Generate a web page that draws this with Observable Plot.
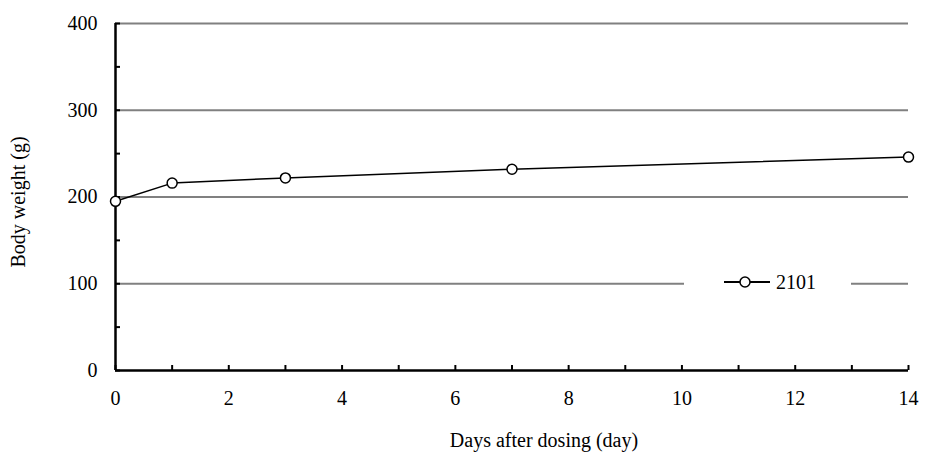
<!DOCTYPE html>
<html><head><meta charset="utf-8">
<script src="https://cdn.jsdelivr.net/npm/d3@7"></script>
<script src="https://cdn.jsdelivr.net/npm/@observablehq/plot@0.6"></script>
<style>
body{margin:0;background:#fff;}
#wrap{position:relative;width:935px;height:464px;font-family:"Liberation Serif","Times New Roman",serif;}
#wrap svg text{font-family:"Liberation Serif","Times New Roman",serif !important;font-size:20px !important;fill:#000;}
#legend{position:absolute;left:684px;top:271px;width:167px;height:24px;background:#fff;}
#legend svg{position:absolute;left:0;top:0;}
#legend span{position:absolute;left:92px;top:0px;font-size:20px;line-height:22px;color:#000;}
</style></head>
<body><div id="wrap"><div id="legend"><svg width="90" height="24"><line x1="40" y1="11" x2="86" y2="11" stroke="#000" stroke-width="2"/><circle cx="61" cy="11" r="5" fill="#fff" stroke="#000" stroke-width="1.5"/></svg><span>2101</span></div></div>
<script>
const days = [0, 1, 3, 7, 14];
const weights = [195, 216, 222, 232, 246];
const seriesName = "2101";
const yGrid = [100, 200, 300, 400];
const xTickLabels = [0, 2, 4, 6, 8, 10, 12, 14];
const xTicks = d3.range(0, 15);
const yTicks = d3.range(0, 401, 50);
const yTickLabels = [0, 100, 200, 300, 400];
const xTitle = "Days after dosing (day)";
const yTitle = "Body weight (g)";

const data = days.map((d, i) => ({day: d, w: weights[i]}));
const FF = "'Liberation Serif','Times New Roman',serif";

const chart = Plot.plot({
  width: 935, height: 464,
  marginLeft: 115, marginRight: 27, marginTop: 23, marginBottom: 94,
  style: {fontFamily: FF, fontSize: "20px", color: "#000", background: "#fff"},
  x: {domain: [0, 14]},
  y: {domain: [0, 400]},
  marks: [
    Plot.ruleY(yGrid, {stroke: "#808080", strokeWidth: 2}),
    Plot.axisX({ticks: xTicks, tickSize: -5, strokeWidth: 2, text: null, label: null}),
    Plot.axisX({ticks: xTickLabels, tickSize: 0, tickPadding: 20, tickFormat: d => d, label: null}),
    Plot.axisY({ticks: yTicks, tickSize: -5, strokeWidth: 2, text: null, label: null}),
    Plot.axisY({ticks: yTickLabels, tickSize: 0, tickPadding: 18, tickFormat: d => d, label: null}),
    Plot.text([xTitle], {frameAnchor: "bottom", dy: 76, dx: 32, text: d => d}),
    Plot.text([yTitle], {frameAnchor: "left", textAnchor: "middle", dx: -97, dy: 5, rotate: -90, text: d => d}),
    Plot.ruleX([0], {stroke: "#000", strokeWidth: 2.5}),
    Plot.ruleY([0], {stroke: "#000", strokeWidth: 2.5}),
    Plot.line(data, {x: "day", y: "w", stroke: "#000", strokeWidth: 1.5}),
    Plot.dot(data, {x: "day", y: "w", r: 5, fill: "#fff", stroke: "#000", strokeWidth: 1.5})
  ]
});
document.getElementById("wrap").prepend(chart);
chart.style.position = "absolute"; chart.style.left = "0"; chart.style.top = "0";
document.getElementById("legend").style.zIndex = 2;
</script></body></html>
